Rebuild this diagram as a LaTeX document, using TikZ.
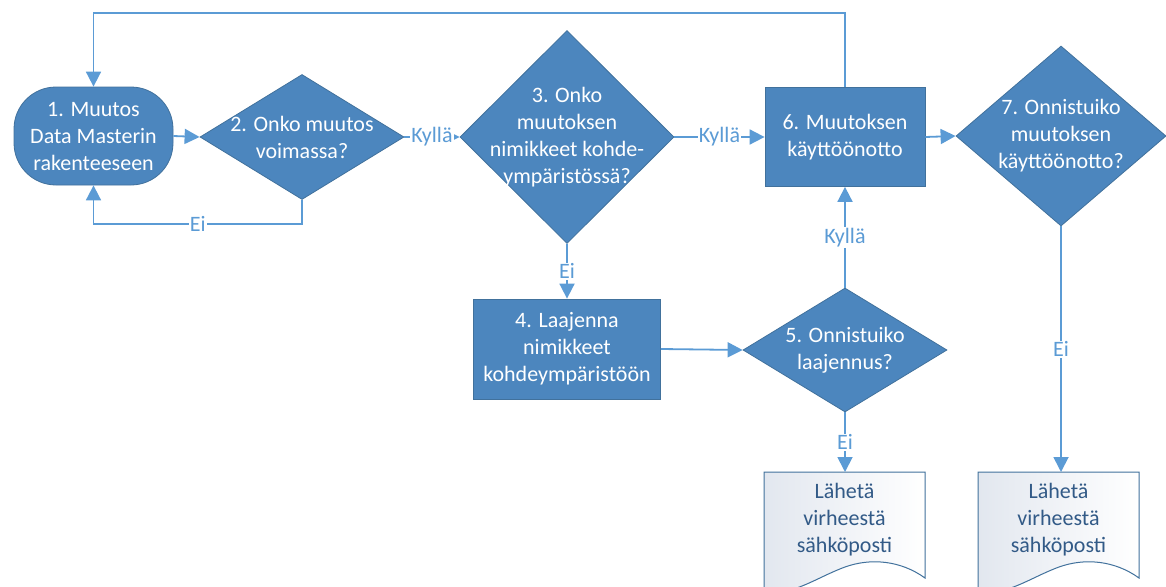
\documentclass[tikz,border=0pt]{standalone}
\usepackage{fontspec}
\setmainfont{Carlito}
\usetikzlibrary{shapes.geometric,arrows.meta}
\definecolor{nodefill}{RGB}{76,134,190}
\definecolor{nodeedge}{RGB}{65,113,156}
\definecolor{connblue}{RGB}{91,155,213}
\definecolor{doctext}{RGB}{50,90,135}
\definecolor{docshade}{RGB}{226,231,239}
\begin{document}
\begin{tikzpicture}[x=1pt,y=-1pt,
  txt/.style={text=white, font=\fontsize{22}{27}\selectfont, align=center},
  proc/.style={rectangle, fill=nodefill, draw=nodeedge, line width=0.8pt, txt, inner sep=0pt},
  term/.style={proc, rounded corners=42pt},
  dia/.style={diamond, fill=nodefill, draw=nodeedge, line width=0.8pt, inner sep=0pt},
  doctxt/.style={text=doctext, font=\fontsize{22}{27}\selectfont, align=center, inner sep=0pt},
  docshape/.style={draw=nodeedge, line width=1pt, left color=docshade, right color=white},
  conn/.style={draw=connblue, line width=1.8pt, -{Triangle[length=15pt,width=15pt]}},
  lbl/.style={fill=white, text=connblue, font=\fontsize{22}{26}\selectfont, inner sep=1pt}
]
\useasboundingbox (0,0) rectangle (1166,586);

% nodes
\node[term, minimum width=159pt, minimum height=98pt] (n1) at (93.5,136) {1. Muutos\\Data Masterin\\rakenteeseen};
\node[dia, minimum width=204pt, minimum height=125pt,
      label={[txt]center:{2. Onko muutos\\voimassa?}}] (n2) at (302,137) {};
\node[dia, minimum width=214pt, minimum height=213pt,
      label={[txt]center:{3. Onko\\muutoksen\\nimikkeet kohde-\\ympäristössä?}}] (n3) at (567,137) {};
\node[proc, minimum width=160pt, minimum height=99pt] (n6) at (845,137) {6. Muutoksen\\käyttöönotto};
\node[dia, minimum width=210pt, minimum height=180pt,
      label={[txt]center:{7. Onnistuiko\\muutoksen\\käyttöönotto?}}] (n7) at (1061,136) {};
\node[proc, minimum width=187pt, minimum height=100pt] (n4) at (567,349) {4. Laajenna\\nimikkeet\\kohdeympäristöön};
\node[dia, minimum width=204pt, minimum height=124pt,
      label={[txt]center:{5. Onnistuiko\\laajennus?}}] (n5) at (845,350) {};

% document shapes
\path[docshape] (764,472) -- (925,472) -- (925,578)
  .. controls (900,560) and (870,558) .. (845,567)
  .. controls (815,578) and (790,598) .. (764,590) -- cycle;
\node[doctxt, minimum width=161pt, minimum height=94pt, anchor=north] (d1) at (844.5,472) {Lähetä\\virheestä\\sähköposti};
\path[docshape] (978,472) -- (1139,472) -- (1139,578)
  .. controls (1114,560) and (1084,558) .. (1059,567)
  .. controls (1029,578) and (1004,598) .. (978,590) -- cycle;
\node[doctxt, minimum width=161pt, minimum height=94pt, anchor=north] (d2) at (1058.5,472) {Lähetä\\virheestä\\sähköposti};

% connectors
\draw[conn] (n6.north) -- ++(0,-74) -| (n1.north);
\draw[conn] (n1.east) -- (n2.west);
\draw[conn] (n2.south) -- ++(0,24) -| node[lbl, pos=0.25] {Ei} (n1.south);
\draw[conn] (n2.east) -- node[lbl] {Kyllä} (n3.west);
\draw[conn] (n3.east) -- node[lbl] {Kyllä} (n6.west);
\draw[conn] (n3.south) -- node[lbl] {Ei} (n4.north);
\draw[conn] (n4.east) -- (n5.west);
\draw[conn] (n5.north) -- node[lbl] {Kyllä} (n6.south);
\draw[conn] (n5.south) -- node[lbl] {Ei} (n5.south |- d1.north);
\draw[conn] (n6.east) -- (n7.west);
\draw[conn] (n7.south) -- node[lbl] {Ei} (n7.south |- d2.north);
\end{tikzpicture}
\end{document}
